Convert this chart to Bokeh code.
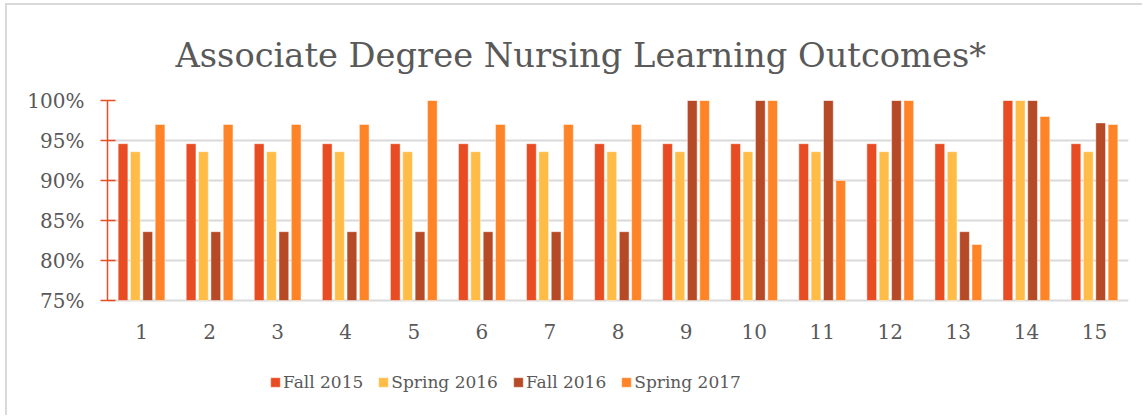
from bokeh.plotting import figure
from bokeh.models import FixedTicker, Range1d, Legend, LegendItem, CustomJSTickFormatter
from bokeh.core.properties import value
from bokeh.embed import file_html
from bokeh.resources import INLINE

categories = list(range(1, 16))
category_labels = [str(c) for c in categories]
series_names = ["Fall 2015", "Spring 2016", "Fall 2016", "Spring 2017"]
fall_2015 = [94.6, 94.6, 94.6, 94.6, 94.6, 94.6, 94.6, 94.6, 94.6, 94.6, 94.6, 94.6, 94.6, 100, 94.6]
spring_2016 = [93.6, 93.6, 93.6, 93.6, 93.6, 93.6, 93.6, 93.6, 93.6, 93.6, 93.6, 93.6, 93.6, 100, 93.6]
fall_2016 = [83.6, 83.6, 83.6, 83.6, 83.6, 83.6, 83.6, 83.6, 100, 100, 100, 100, 83.6, 100, 97.2]
spring_2017 = [97, 97, 97, 97, 100, 97, 97, 97, 100, 100, 90, 100, 82, 98, 97]
y_ticks = [75, 80, 85, 90, 95, 100]

colors = ["#E84C22", "#FFBD47", "#B64926", "#FF8427"]
offsets = [-0.272, -0.091, 0.091, 0.272]
FONT = "DejaVu Serif"
GREY = "#595959"
Y_MIN, Y_MAX = 75, 100

p = figure(width=1137, height=412, output_backend="svg", toolbar_location=None,
           x_range=Range1d(0.5, 15.5), y_range=Range1d(60.625, Y_MAX),
           x_axis_location=None,
           min_border_left=100, min_border_right=16, min_border_top=95, min_border_bottom=2,
           title="Associate Degree Nursing Learning Outcomes*")
p.styles = {"margin-left": "5px", "margin-top": "3px",
            "border-left": "2px solid #D9D9D9", "border-top": "2px solid #D9D9D9"}
p.outline_line_color = None
p.title.align = "left"
p.title.text_font = FONT
p.title.text_font_size = "33.7px"
p.title.text_font_style = "normal"
p.title.text_color = GREY
p.title.offset = 68
p.title.standoff = 52

renderers = []
for vals, c, off in zip([fall_2015, spring_2016, fall_2016, spring_2017], colors, offsets):
    r = p.vbar(x=[cat + off for cat in categories], top=vals, bottom=Y_MIN, width=0.143,
               fill_color=c, line_color="white", line_alpha=0.45, line_width=1)
    renderers.append(r)

p.xgrid.grid_line_color = None
p.ygrid.grid_line_color = "#D9D9D9"
p.ygrid.grid_line_width = 2
p.ygrid.ticker = FixedTicker(ticks=y_ticks)

p.yaxis.ticker = FixedTicker(ticks=y_ticks)
p.yaxis.bounds = (Y_MIN, Y_MAX)
p.yaxis.formatter = CustomJSTickFormatter(code="return tick.toFixed(0) + '%';")
p.yaxis.axis_line_color = "#E84C22"
p.yaxis.axis_line_width = 1.5
p.yaxis.major_tick_line_color = "#E84C22"
p.yaxis.major_tick_line_width = 1.5
p.yaxis.major_tick_in = 8
p.yaxis.major_tick_out = 7
p.yaxis.minor_tick_line_color = None
p.yaxis.major_label_text_font = FONT
p.yaxis.major_label_text_font_size = "20px"
p.yaxis.major_label_text_color = GREY
p.yaxis.major_label_standoff = 16

# category labels under the bars
p.text(x=categories, y=[71.1] * len(categories), text=category_labels,
       text_font=value(FONT), text_font_size="20px", text_color=GREY,
       text_align="center", text_baseline="middle")

legend = Legend(items=[LegendItem(label=n, renderers=[r]) for n, r in zip(series_names, renderers)],
                orientation="horizontal", location=(162, 23))
legend.label_text_font = FONT
legend.label_text_font_size = "17px"
legend.label_text_color = GREY
legend.glyph_width = 12
legend.glyph_height = 12
legend.label_standoff = 2
legend.spacing = 14
legend.padding = 0
legend.margin = 0
legend.border_line_color = None
legend.background_fill_alpha = 0
p.add_layout(legend, "center")

open("out.html", "w").write(file_html(p, INLINE))
